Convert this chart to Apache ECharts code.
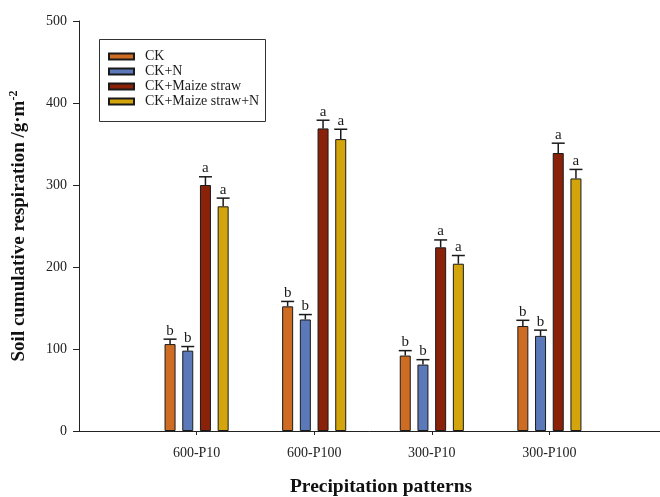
<!DOCTYPE html>
<html>
<head>
<meta charset="utf-8">
<script src="https://cdn.jsdelivr.net/npm/echarts@6/dist/echarts.min.js"></script>
<style>html,body{margin:0;padding:0;background:#fff}#c{width:660px;height:497px}</style>
</head>
<body>
<div id="c"></div>
<script>
// ---- data ----
var categories = ['', '600-P10', '600-P100', '300-P10', '300-P100', ''];
var seriesNames = ['CK', 'CK+N', 'CK+Maize straw', 'CK+Maize straw+N'];
var ckValues = [null, 106, 152, 92, 128, null];
var ckNValues = [null, 98, 136, 81, 116, null];
var strawValues = [null, 300, 369, 224, 339, null];
var strawNValues = [null, 274, 356, 204, 308, null];
var ckErr = [null, 6, 6, 6, 7, null];
var ckNErr = [null, 5, 6, 6, 7, null];
var strawErr = [null, 10, 10, 9, 12, null];
var strawNErr = [null, 10, 12, 10, 11, null];
var ckLetters = ['', 'b', 'b', 'b', 'b', ''];
var ckNLetters = ['', 'b', 'b', 'b', 'b', ''];
var strawLetters = ['', 'a', 'a', 'a', 'a', ''];
var strawNLetters = ['', 'a', 'a', 'a', 'a', ''];
var yTicks = [0, 100, 200, 300, 400, 500];

// ---- style ----
var colors = ['#cf6c23', '#5b78b8', '#8a2109', '#d4a40c'];
var FONT = '"Liberation Serif", "DejaVu Serif", serif';
var BAR_W = 11, BAR_GAP = 6.7;
var values = [ckValues, ckNValues, strawValues, strawNValues];
var errs = [ckErr, ckNErr, strawErr, strawNErr];
var letters = [ckLetters, ckNLetters, strawLetters, strawNLetters];

var chart = echarts.init(document.getElementById('c'), null, {renderer: 'canvas'});

var series = [];
seriesNames.forEach(function (name, k) {
  series.push({
    name: name,
    type: 'bar',
    data: values[k],
    barWidth: BAR_W,
    barGap: (BAR_GAP / BAR_W * 100).toFixed(1) + '%',
    itemStyle: {color: colors[k], borderColor: '#1a1a1a', borderWidth: 1},
    animation: false
  });
});
seriesNames.forEach(function (name, k) {
  var data = [];
  values[k].forEach(function (v, i) {
    if (v != null) data.push([i, v, errs[k][i], letters[k][i]]);
  });
  series.push({
    type: 'custom',
    name: name + '_err',
    data: data,
    z: 5,
    silent: true,
    animation: false,
    renderItem: function (params, api) {
      var i = api.value(0), v = api.value(1), e = api.value(2);
      var letter = data[params.dataIndex][3];
      var base = api.coord([i, v]);
      var top = api.coord([i, v + e]);
      var x = base[0] + (k - 1.5) * (BAR_W + BAR_GAP);
      return {
        type: 'group',
        children: [
          {type: 'line', shape: {x1: x, y1: base[1], x2: x, y2: top[1]}, style: {stroke: '#1a1a1a', lineWidth: 1.5}},
          {type: 'line', shape: {x1: x - 6.5, y1: top[1], x2: x + 6.5, y2: top[1]}, style: {stroke: '#1a1a1a', lineWidth: 1.5}},
          {type: 'text', x: x, y: top[1] - 1, style: {text: letter, fontFamily: FONT, fontSize: 15, fill: '#1a1a1a', textAlign: 'center', textVerticalAlign: 'bottom'}}
        ]
      };
    }
  });
});

chart.setOption({
  backgroundColor: '#fff',
  animation: false,
  grid: {left: 79, top: 21, right: -7, bottom: 66, containLabel: false, outerBoundsMode: 'none'},
  graphic: [{
    type: 'rect', left: 97, top: 37, z: 10,
    shape: {width: 166, height: 82},
    style: {fill: 'none', stroke: '#333', lineWidth: 1}
  }],
  legend: {
    data: seriesNames,
    orient: 'vertical',
    left: 108, top: 49,
    padding: 0,
    itemGap: 0,
    itemWidth: 25, itemHeight: 6,
    icon: 'rect',
    textStyle: {fontFamily: FONT, fontSize: 14, color: '#1a1a1a', lineHeight: 15, padding: [0, 0, 0, 6]}
  },
  xAxis: {
    type: 'category',
    data: categories,
    boundaryGap: false,
    name: 'Precipitation patterns',
    nameLocation: 'middle',
    nameGap: 46,
    nameTextStyle: {fontFamily: FONT, fontSize: 19.5, fontWeight: 'bold', color: '#111', padding: [0, 0, 0, 16]},
    axisLine: {lineStyle: {color: '#222', width: 1}},
    axisTick: {show: true, length: 4, inside: false, lineStyle: {color: '#222'},
      interval: function (idx) { return idx > 0 && idx < categories.length - 1; }},
    axisLabel: {fontFamily: FONT, fontSize: 14, color: '#222', margin: 15,
      interval: function (idx) { return idx > 0 && idx < categories.length - 1; }},
    splitLine: {show: false}
  },
  yAxis: {
    type: 'value',
    min: yTicks[0], max: yTicks[yTicks.length - 1], interval: yTicks[1] - yTicks[0],
    name: '{a|Soil cumulative respiration /g·m}{s|-2}',
    nameLocation: 'middle',
    nameGap: 49,
    nameRotate: 90,
    nameTextStyle: {
      rich: {
        a: {fontFamily: FONT, fontSize: 19, fontWeight: 'bold', color: '#111'},
        s: {fontFamily: FONT, fontSize: 12, fontWeight: 'bold', color: '#111', padding: [0, 0, 10, 0]}
      }
    },
    axisLine: {show: true, lineStyle: {color: '#222', width: 1}},
    axisTick: {show: true, length: 6, lineStyle: {color: '#222'}},
    axisLabel: {fontFamily: FONT, fontSize: 14, color: '#222', margin: 12},
    splitLine: {show: false}
  },
  series: series
});
</script>
</body>
</html>
